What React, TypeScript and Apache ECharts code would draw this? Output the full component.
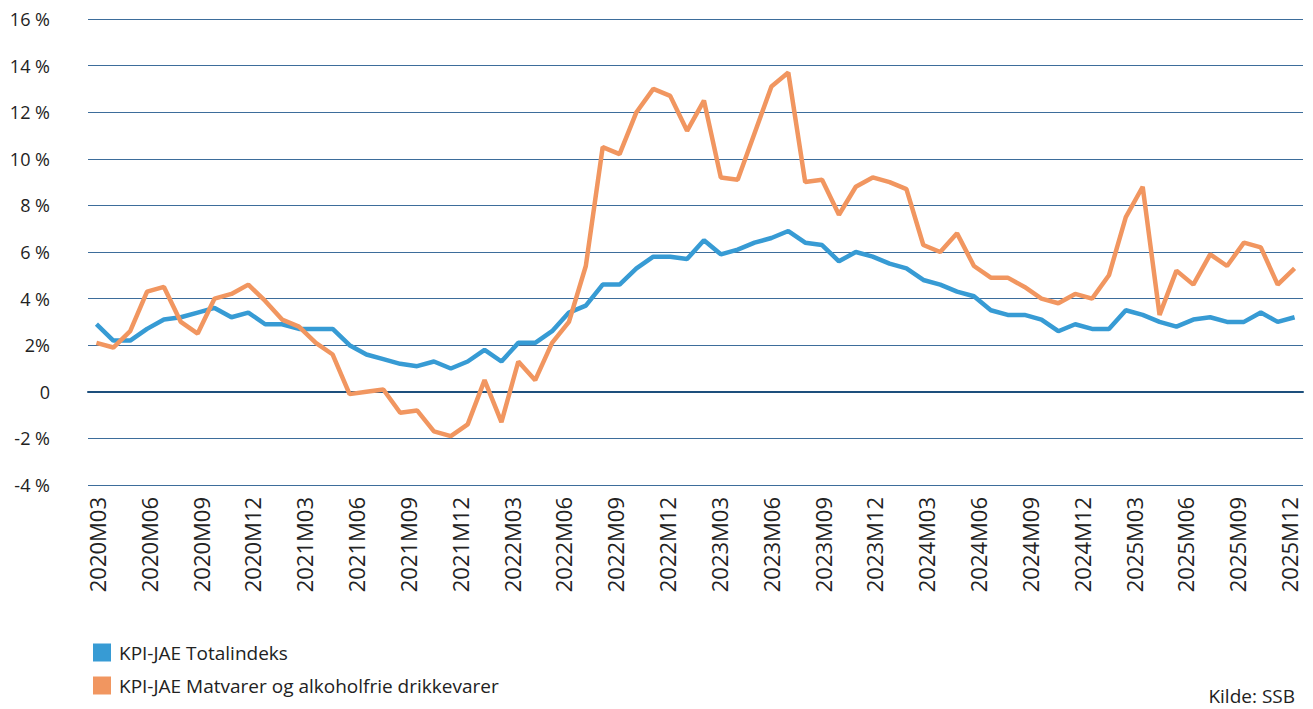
import React, { useEffect, useRef } from "react";
import * as echarts from "echarts";

// Monthly categories 2020M01 .. 2025M12
const years = [2020, 2021, 2022, 2023, 2024, 2025];
const months = ["01", "02", "03", "04", "05", "06", "07", "08", "09", "10", "11", "12"];
const categories: string[] = [];
years.forEach((y) => months.forEach((m) => categories.push(`${y}M${m}`)));

// Tick labels shown on the x axis
const tickLabels = [
  "2020M03", "2020M06", "2020M09", "2020M12",
  "2021M03", "2021M06", "2021M09", "2021M12",
  "2022M03", "2022M06", "2022M09", "2022M12",
  "2023M03", "2023M06", "2023M09", "2023M12",
  "2024M03", "2024M06", "2024M09", "2024M12",
  "2025M03", "2025M06", "2025M09", "2025M12",
];

// KPI-JAE Totalindeks (12-month change, %)
const totalindeks = [
  2.9, 2.2, 2.2, 2.7, 3.1, 3.2, 3.4, 3.6, 3.2, 3.4, 2.9, 2.9,
  2.7, 2.7, 2.7, 2.0, 1.6, 1.4, 1.2, 1.1, 1.3, 1.0, 1.3, 1.8,
  1.3, 2.1, 2.1, 2.6, 3.4, 3.7, 4.6, 4.6, 5.3, 5.8, 5.8, 5.7,
  6.5, 5.9, 6.1, 6.4, 6.6, 6.9, 6.4, 6.3, 5.6, 6.0, 5.8, 5.5,
  5.3, 4.8, 4.6, 4.3, 4.1, 3.5, 3.3, 3.3, 3.1, 2.6, 2.9, 2.7,
  2.7, 3.5, 3.3, 3.0, 2.8, 3.1, 3.2, 3.0, 3.0, 3.4, 3.0, 3.2,
];

// KPI-JAE Matvarer og alkoholfrie drikkevarer (12-month change, %)
const matvarer = [
  2.1, 1.9, 2.6, 4.3, 4.5, 3.0, 2.5, 4.0, 4.2, 4.6, 3.9, 3.1,
  2.8, 2.1, 1.6, -0.1, 0.0, 0.1, -0.9, -0.8, -1.7, -1.9, -1.4, 0.5,
  -1.3, 1.3, 0.5, 2.1, 3.0, 5.4, 10.5, 10.2, 12.0, 13.0, 12.7, 11.2,
  12.5, 9.2, 9.1, 11.1, 13.1, 13.7, 9.0, 9.1, 7.6, 8.8, 9.2, 9.0,
  8.7, 6.3, 6.0, 6.8, 5.4, 4.9, 4.9, 4.5, 4.0, 3.8, 4.2, 4.0,
  5.0, 7.5, 8.8, 3.3, 5.2, 4.6, 5.9, 5.4, 6.4, 6.2, 4.6, 5.3,
];

// Y axis tick labels
const yTickValues = [16, 14, 12, 10, 8, 6, 4, 2, 0, -2, -4];
const yTickLabels = ["16 %", "14 %", "12 %", "10 %", "8 %", "6 %", "4 %", "2%", "0", "-2 %", "-4 %"];

const seriesNames = ["KPI-JAE Totalindeks", "KPI-JAE Matvarer og alkoholfrie drikkevarer"];
const seriesColors = ["#379bd4", "#f19660"];

const FONT = "'Open Sans', 'Noto Sans', sans-serif";

export default function App() {
  const ref = useRef<HTMLDivElement>(null);

  useEffect(() => {
    if (!ref.current) return;
    const chart = echarts.init(ref.current, undefined, { renderer: "svg" });
    const option: any = {
      animation: false,
      backgroundColor: "#ffffff",
      grid: [
        { left: 88, right: 10, top: 19, height: 466, containLabel: false },
        { left: 97, right: 24, top: 19, height: 466, containLabel: false },
      ],
      xAxis: [
        {
          type: "category",
          gridIndex: 0,
          data: categories,
          boundaryGap: true,
          axisLine: { show: true, onZero: true, lineStyle: { color: "#1d4f7c", width: 2 } },
          axisTick: { show: false },
          axisLabel: { show: false },
          splitLine: { show: false },
        },
        {
          type: "category",
          gridIndex: 1,
          data: tickLabels,
          boundaryGap: false,
          axisLine: { show: false, onZero: false },
          axisTick: { show: false },
          splitLine: { show: false },
          axisLabel: {
            interval: 0,
            rotate: 90,
            margin: 12,
            fontSize: 22,
            fontFamily: FONT,
            color: "#222222",
          },
        },
      ],
      yAxis: [
        {
          type: "value",
          gridIndex: 0,
          min: -4,
          max: 16,
          interval: 2,
          axisLine: { show: false },
          axisTick: { show: false },
          splitLine: { show: true, lineStyle: { color: "#3d6d9b", width: 1.2 } },
          axisLabel: {
            margin: 38,
            fontSize: 18,
            fontFamily: FONT,
            color: "#222222",
            formatter: (v: number) => {
              const i = yTickValues.indexOf(v);
              return i >= 0 ? yTickLabels[i] : "";
            },
          },
        },
        {
          type: "value",
          gridIndex: 1,
          min: 0,
          max: 1,
          show: false,
        },
      ],
      legend: {
        orient: "vertical",
        left: 88,
        top: 638,
        itemWidth: 18,
        itemHeight: 18,
        itemGap: 14,
        icon: "rect",
        textStyle: {
          fontSize: 19,
          fontFamily: FONT,
          color: "#222222",
          lineHeight: 18,
          padding: [0, 0, 0, 3],
        },
        data: seriesNames,
      },
      series: [
        {
          name: seriesNames[0],
          type: "line",
          xAxisIndex: 0,
          yAxisIndex: 0,
          data: totalindeks,
          symbol: "none",
          lineStyle: { width: 4.5, color: seriesColors[0] },
          itemStyle: { color: seriesColors[0] },
        },
        {
          name: seriesNames[1],
          type: "line",
          xAxisIndex: 0,
          yAxisIndex: 0,
          data: matvarer,
          symbol: "none",
          lineStyle: { width: 4.5, color: seriesColors[1] },
          itemStyle: { color: seriesColors[1] },
        },
      ],
      graphic: [
        {
          type: "text",
          right: 18,
          top: 686,
          style: {
            text: "Kilde: SSB",
            fontSize: 19,
            fontFamily: FONT,
            fill: "#222222",
          },
        },
      ],
    };
    chart.setOption(option);
    return () => chart.dispose();
  }, []);

  return (
    <div
      ref={ref}
      style={{ position: "fixed", left: 0, top: 0, width: 1313, height: 709 }}
    />
  );
}
